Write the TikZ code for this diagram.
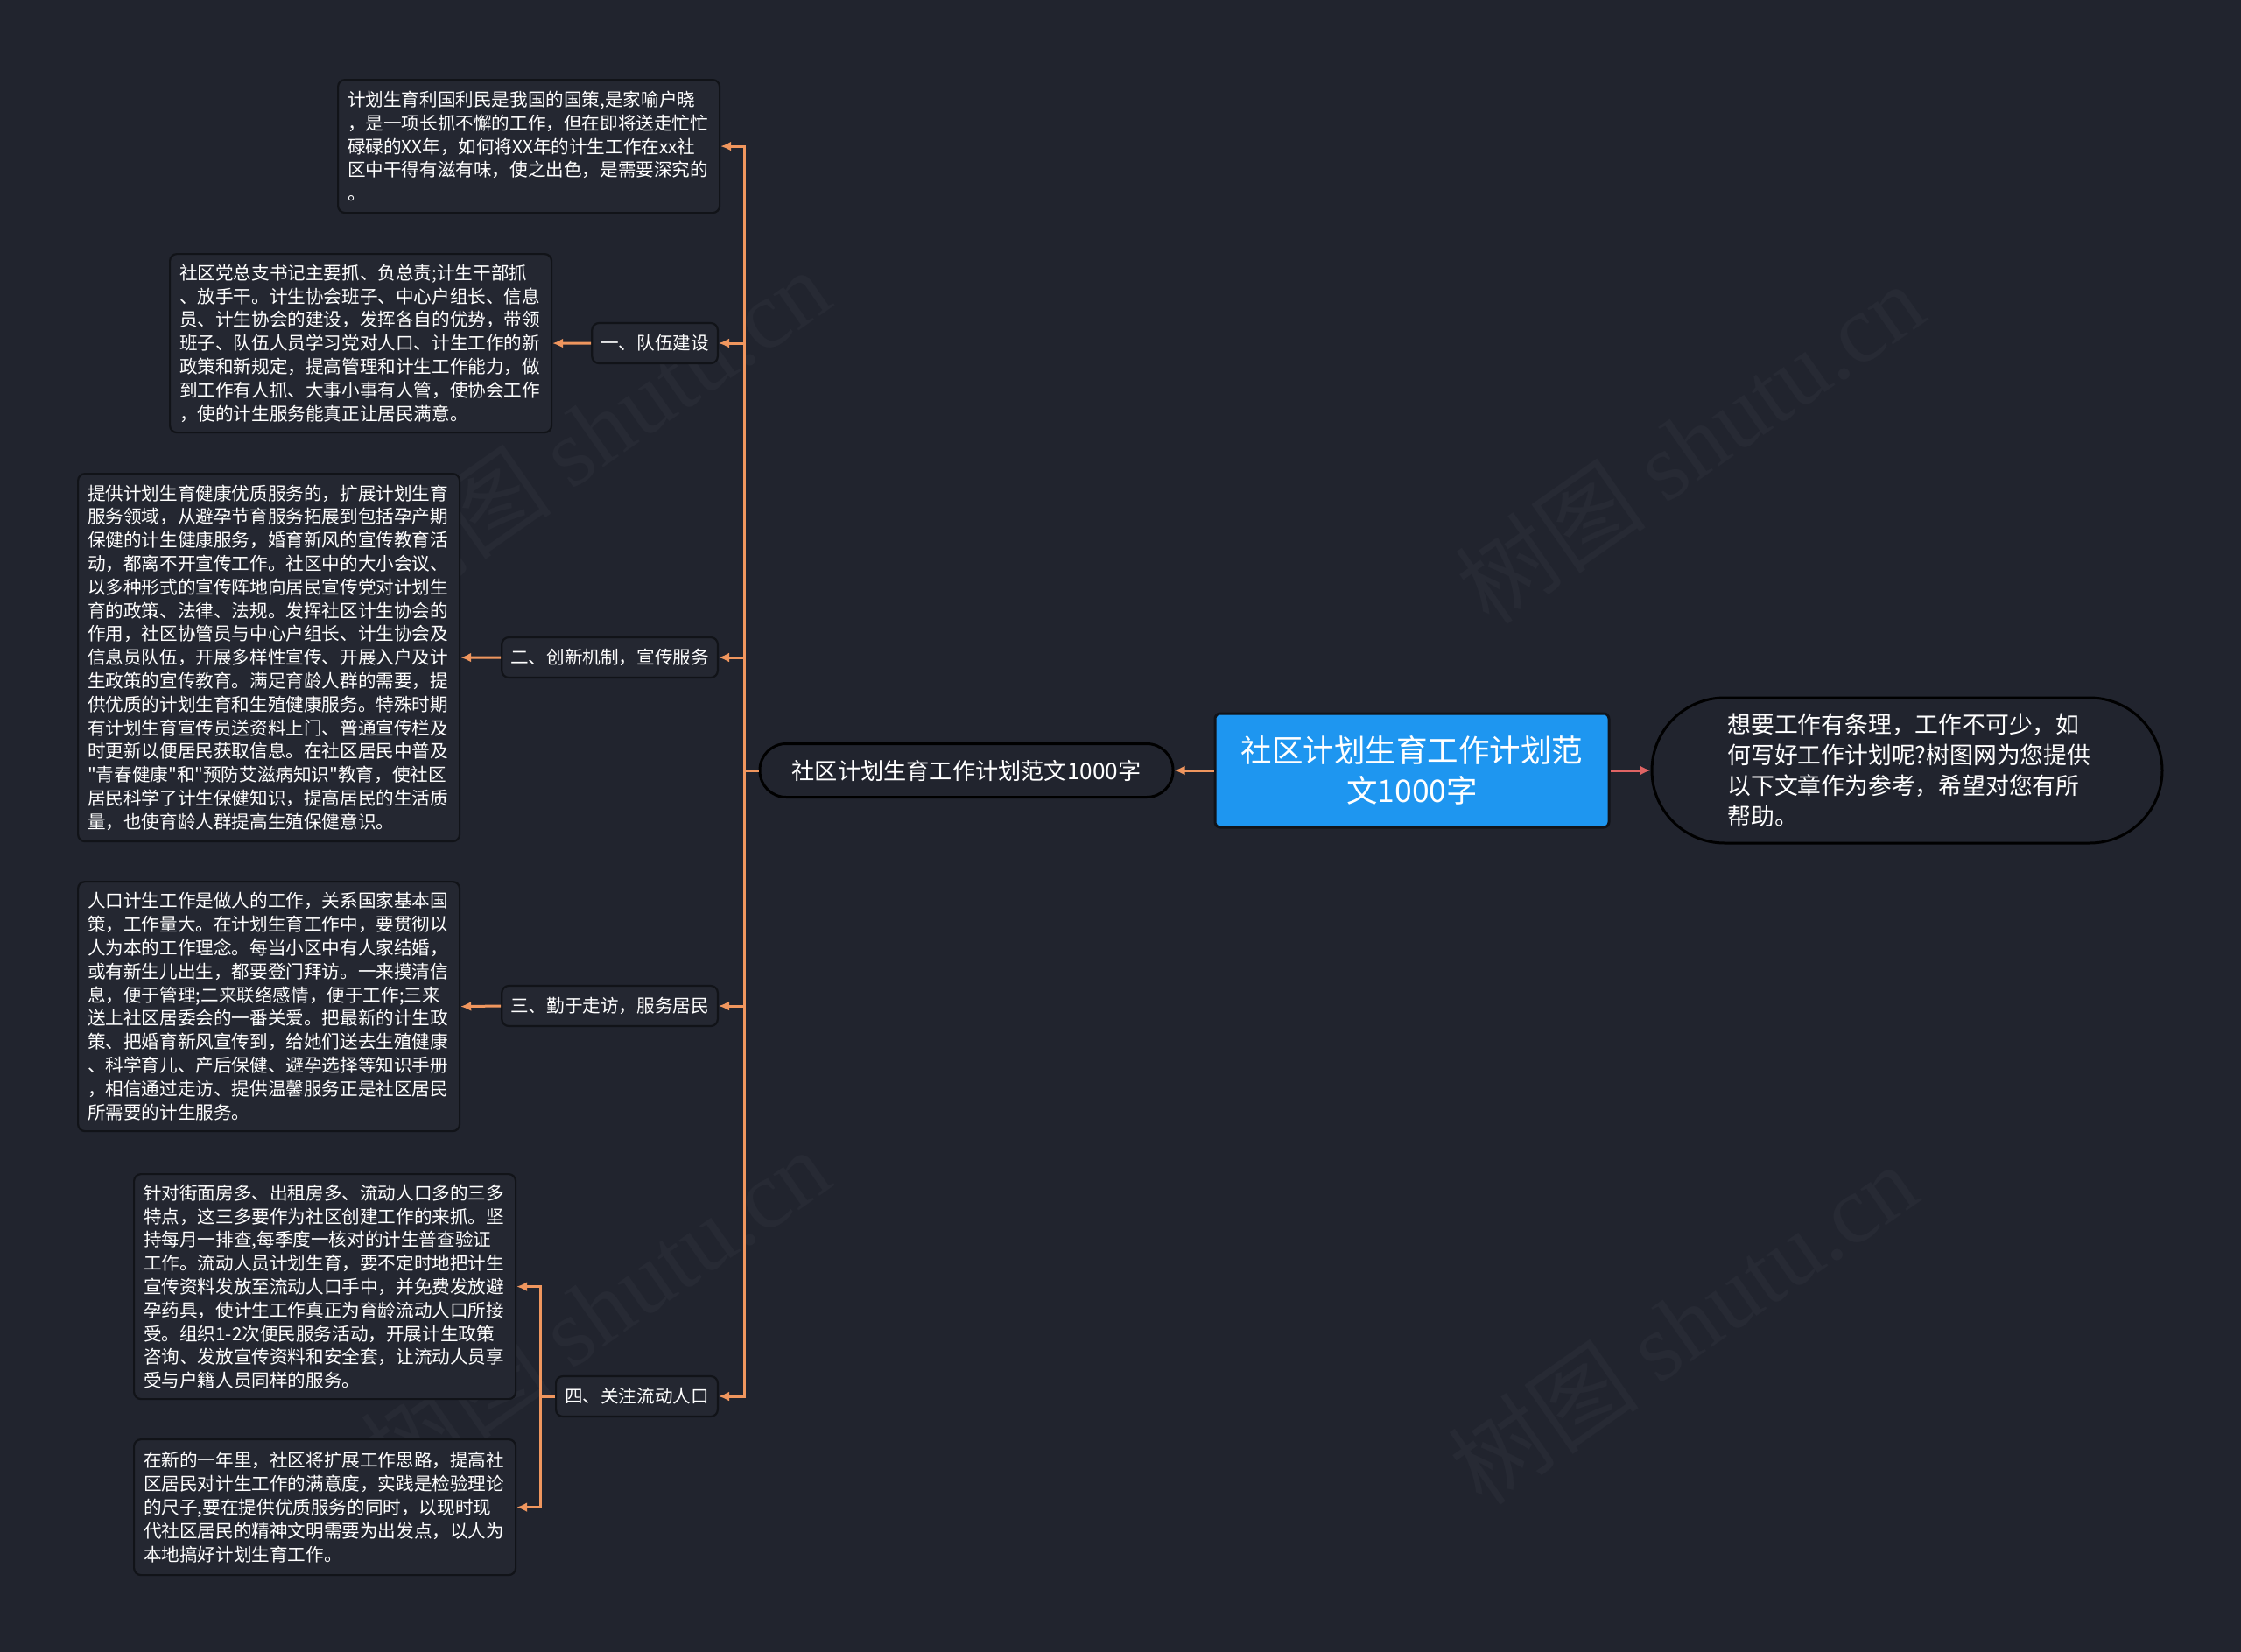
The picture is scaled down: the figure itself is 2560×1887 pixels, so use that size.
\documentclass[tikz,border=0pt]{standalone}
\usepackage{fontspec}
\setmainfont{Noto Sans CJK SC}[Ligatures=TeXOff]
\newfontfamily\wmlatin{Liberation Serif}
\usetikzlibrary{arrows.meta}
\definecolor{bg}{HTML}{21242E}
\definecolor{boxfill}{HTML}{242731}
\definecolor{boxborder}{HTML}{111318}
\definecolor{orangeline}{HTML}{F0965E}
\definecolor{redline}{HTML}{E06464}
\definecolor{centerblue}{HTML}{1E96F0}
\definecolor{wmcolor}{HTML}{272A34}
\begin{document}
\begin{tikzpicture}[x=1pt,y=-1pt,
  leafbox/.style={draw=boxborder, line width=2.2pt, fill=boxfill, rounded corners=8pt,
    align=left, anchor=north west, inner xsep=11pt, inner ysep=0pt, text width=414pt,
    minimum width=436pt, text=white, font=\fontsize{20.6pt}{26.8pt}\selectfont},
  midbox/.style={draw=boxborder, line width=2.2pt, fill=boxfill, rounded corners=8pt,
    anchor=east, inner xsep=10pt, inner ysep=0pt, minimum height=46pt, text=white,
    font=\fontsize{20.6pt}{26.8pt}\selectfont},
  conn/.style={draw=orangeline, line width=3pt, -{Latex[length=12pt,width=11pt]}},
  connred/.style={draw=redline, line width=3pt, -{Latex[length=12pt,width=11pt]}},
  wm/.style={text=wmcolor, rotate=35, font=\fontsize{110pt}{110pt}\selectfont, inner sep=0pt}
]
\useasboundingbox (0,0) rectangle (2560,1887);
\fill[bg] (0,0) rectangle (2560,1887);

% watermarks
\node[wm] (wm1) at (680,490) {树图\hspace{25pt}{\wmlatin shutu.cn}};
\node[wm] (wm2) at (1930,506) {树图\hspace{25pt}{\wmlatin shutu.cn}};
\node[wm] (wm3) at (680,1495) {树图\hspace{25pt}{\wmlatin shutu.cn}};
\node[wm] (wm4) at (1922,1512) {树图\hspace{25pt}{\wmlatin shutu.cn}};

% central nodes
\node[draw=boxborder, line width=3pt, fill=centerblue, rounded corners=6pt,
  minimum width=450pt, minimum height=130pt, text width=400pt, align=center,
  text=white, font=\fontsize{35.5pt}{46pt}\selectfont] (c) at (1613,880)
  {社区计划生育工作计划范\\文1000字};
\node[draw=black, line width=3pt, fill=bg, rounded corners=30pt,
  minimum width=472pt, minimum height=61pt, inner sep=0pt,
  text=white, font=\fontsize{26.2pt}{30pt}\selectfont] (root) at (1104,880)
  {社区计划生育工作计划范文1000字};
\node[draw=black, line width=3pt, fill=bg, rounded corners=83pt,
  minimum width=583pt, minimum height=166pt, text width=410pt, align=left,
  text=white, font=\fontsize{26.8pt}{34.8pt}\selectfont] (r) at (2178.5,880)
  {想要工作有条理，工作不可少，如\\何写好工作计划呢?树图网为您提供\\以下文章作为参考，希望对您有所\\帮助。};

% mid nodes
\node[midbox] (m1) at (821,392) {一、队伍建设};
\node[midbox] (m2) at (821,751) {二、创新机制，宣传服务};
\node[midbox] (m3) at (821,1149) {三、勤于走访，服务居民};
\node[midbox] (m4) at (821,1595) {四、关注流动人口};

% leaves
\node[leafbox, minimum height=152pt] (b1) at (385,90)
  {计划生育利国利民是我国的国策,是家喻户晓\\，是一项长抓不懈的工作，但在即将送走忙忙\\碌碌的XX年，如何将XX年的计生工作在xx社\\区中干得有滋有味，使之出色，是需要深究的\\。};
\node[leafbox, minimum height=204pt] (b2) at (193,289)
  {社区党总支书记主要抓、负总责;计生干部抓\\、放手干。计生协会班子、中心户组长、信息\\员、计生协会的建设，发挥各自的优势，带领\\班子、队伍人员学习党对人口、计生工作的新\\政策和新规定，提高管理和计生工作能力，做\\到工作有人抓、大事小事有人管，使协会工作\\，使的计生服务能真正让居民满意。};
\node[leafbox, minimum height=420pt] (b3) at (88,540)
  {提供计划生育健康优质服务的，扩展计划生育\\服务领域，从避孕节育服务拓展到包括孕产期\\保健的计生健康服务，婚育新风的宣传教育活\\动，都离不开宣传工作。社区中的大小会议、\\以多种形式的宣传阵地向居民宣传党对计划生\\育的政策、法律、法规。发挥社区计生协会的\\作用，社区协管员与中心户组长、计生协会及\\信息员队伍，开展多样性宣传、开展入户及计\\生政策的宣传教育。满足育龄人群的需要，提\\供优质的计划生育和生殖健康服务。特殊时期\\有计划生育宣传员送资料上门、普通宣传栏及\\时更新以便居民获取信息。在社区居民中普及\\"青春健康"和"预防艾滋病知识"教育，使社区\\居民科学了计生保健知识，提高居民的生活质\\量，也使育龄人群提高生殖保健意识。};
\node[leafbox, minimum height=285pt] (b4) at (88,1006)
  {人口计生工作是做人的工作，关系国家基本国\\策，工作量大。在计划生育工作中，要贯彻以\\人为本的工作理念。每当小区中有人家结婚，\\或有新生儿出生，都要登门拜访。一来摸清信\\息，便于管理;二来联络感情，便于工作;三来\\送上社区居委会的一番关爱。把最新的计生政\\策、把婚育新风宣传到，给她们送去生殖健康\\、科学育儿、产后保健、避孕选择等知识手册\\，相信通过走访、提供温馨服务正是社区居民\\所需要的计生服务。};
\node[leafbox, minimum height=257pt] (b5) at (152,1340)
  {针对街面房多、出租房多、流动人口多的三多\\特点，这三多要作为社区创建工作的来抓。坚\\持每月一排查,每季度一核对的计生普查验证\\工作。流动人员计划生育，要不定时地把计生\\宣传资料发放至流动人口手中，并免费发放避\\孕药具，使计生工作真正为育龄流动人口所接\\受。组织1-2次便民服务活动，开展计生政策\\咨询、发放宣传资料和安全套，让流动人员享\\受与户籍人员同样的服务。};
\node[leafbox, minimum height=155pt] (b6) at (152,1643)
  {在新的一年里，社区将扩展工作思路，提高社\\区居民对计生工作的满意度，实践是检验理论\\的尺子,要在提供优质服务的同时，以现时现\\代社区居民的精神文明需要为出发点，以人为\\本地搞好计划生育工作。};

% connectors
\draw[conn] (c.west) -- (root.east);
\draw[connred] (c.east) -- (r.west);
\draw[conn] (root.west) -- ++(-16,0) |- (b1.east);
\draw[conn] (root.west) -- ++(-16,0) |- (m1.east);
\draw[conn] (root.west) -- ++(-16,0) |- (m2.east);
\draw[conn] (root.west) -- ++(-16,0) |- (m3.east);
\draw[conn] (root.west) -- ++(-16,0) |- (m4.east);
\draw[conn] (m1.west) -- (b2.east);
\draw[conn] (m2.west) -- (b3.east);
\draw[conn] (m3.west) -- (b4.east);
\draw[conn] (m4.west) -- ++(-17,0) |- (b5.east);
\draw[conn] (m4.west) -- ++(-17,0) |- (b6.east);
\end{tikzpicture}
\end{document}
